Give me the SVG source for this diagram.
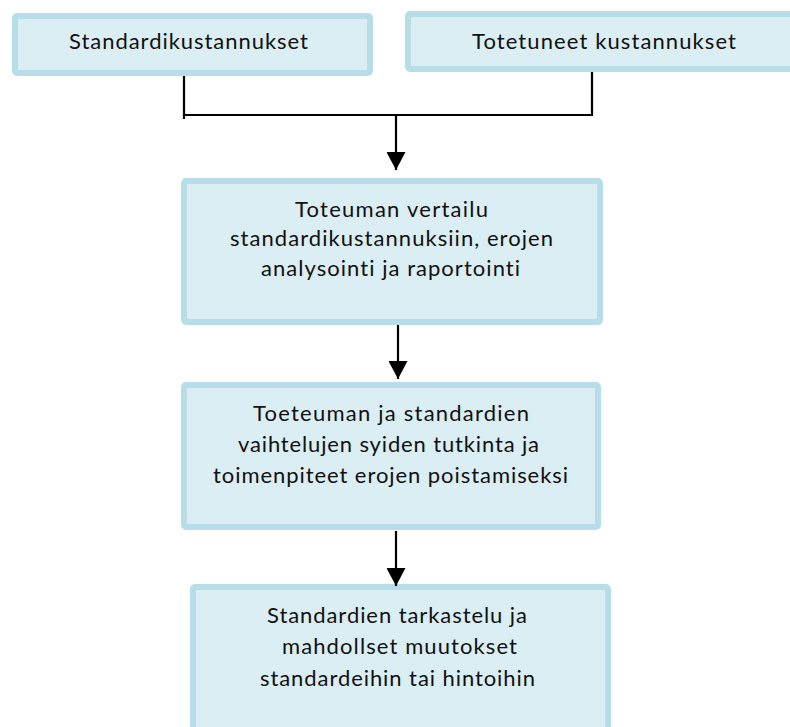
<svg xmlns="http://www.w3.org/2000/svg" width="790" height="727" viewBox="0 0 790 727">
  <style>
    .box { fill: #dbeef4; stroke: #b7dde8; stroke-width: 6; }
    .lbl { font-family: Lato, "Open Sans", "Liberation Sans", sans-serif; font-size: 22px; fill: #111; font-variant-ligatures: none; }
    .wire { fill: none; stroke: #000; stroke-width: 2.2; }
  </style>
  <defs>
    <marker id="head" markerUnits="userSpaceOnUse" markerWidth="19" markerHeight="19" refX="18" refY="9.5" orient="auto">
      <path d="M0,0 L18,9.5 L0,19 z" fill="#000"/>
    </marker>
  </defs>

  <rect width="790" height="727" fill="#fff"/>

  <g id="standard-costs">
    <rect class="box" x="15" y="16" width="355" height="57" rx="2"/>
    <text class="lbl" x="69" y="49" textLength="239" lengthAdjust="spacing">Standardikustannukset</text>
  </g>

  <g id="actual-costs">
    <rect class="box" x="408" y="14" width="400" height="55" rx="2"/>
    <text class="lbl" x="472" y="49" textLength="264" lengthAdjust="spacing">Totetuneet kustannukset</text>
  </g>

  <g id="comparison">
    <rect class="box" x="184" y="181" width="416" height="141" rx="2"/>
    <text class="lbl" x="295" y="217" textLength="193" lengthAdjust="spacing">Toteuman vertailu</text>
    <text class="lbl" x="230" y="246" textLength="323" lengthAdjust="spacing">standardikustannuksiin, erojen</text>
    <text class="lbl" x="261" y="276" textLength="259" lengthAdjust="spacing">analysointi ja raportointi</text>
  </g>

  <g id="investigation">
    <rect class="box" x="184" y="385" width="414" height="142" rx="2"/>
    <text class="lbl" x="253" y="421" textLength="276" lengthAdjust="spacing">Toeteuman ja standardien</text>
    <text class="lbl" x="238" y="452" textLength="301" lengthAdjust="spacing">vaihtelujen syiden tutkinta ja</text>
    <text class="lbl" x="213" y="483" textLength="355" lengthAdjust="spacing">toimenpiteet erojen poistamiseksi</text>
  </g>

  <g id="review">
    <rect class="box" x="193" y="587" width="415" height="150" rx="2"/>
    <text class="lbl" x="267" y="623" textLength="260" lengthAdjust="spacing">Standardien tarkastelu ja</text>
    <text class="lbl" x="282" y="654" textLength="235" lengthAdjust="spacing">mahdollset muutokset</text>
    <text class="lbl" x="260" y="686" textLength="275" lengthAdjust="spacing">standardeihin tai hintoihin</text>
  </g>

  <g id="connectors">
    <path class="wire" d="M184 76 V119 M183 115 H593 M592 72 V116"/>
    <path class="wire" d="M396 115 V170" marker-end="url(#head)"/>
    <path class="wire" d="M398 325 V379" marker-end="url(#head)"/>
    <path class="wire" d="M396 531 V586" marker-end="url(#head)"/>
  </g>
</svg>
